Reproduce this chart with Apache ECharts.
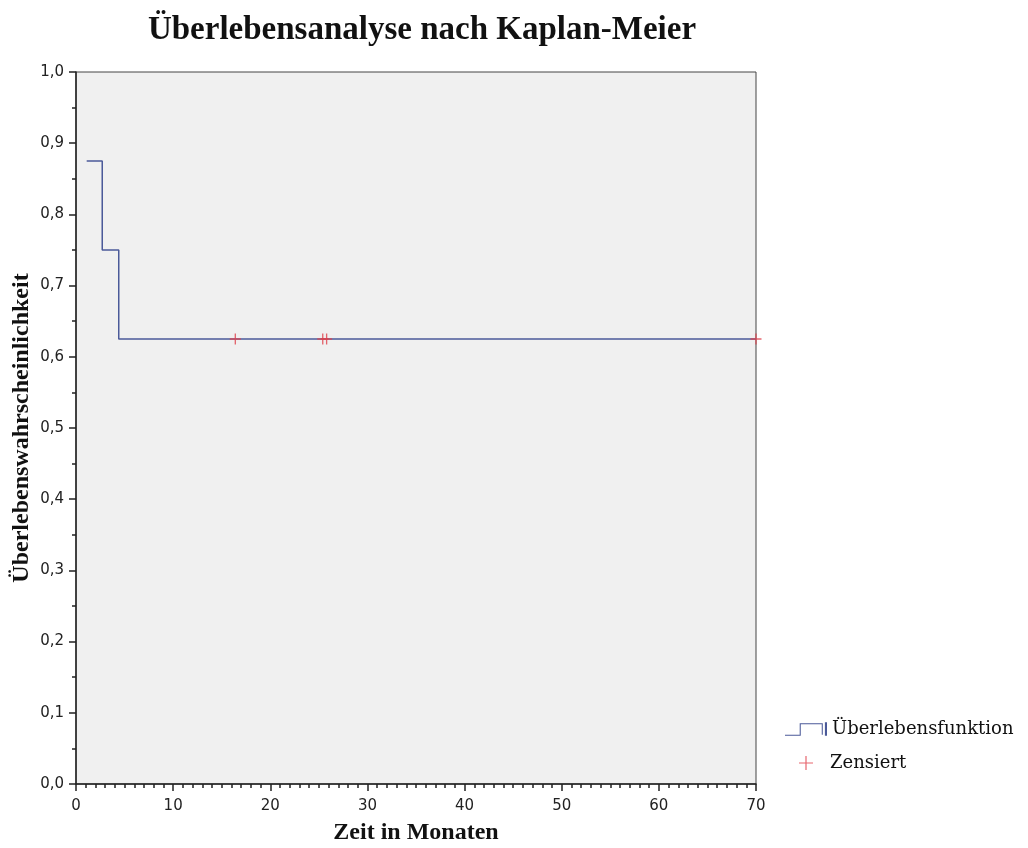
<!DOCTYPE html>
<html>
<head>
<meta charset="utf-8">
<script src="https://cdn.jsdelivr.net/npm/echarts@6/dist/echarts.min.js"></script>
<style>
html, body { margin: 0; padding: 0; background: #fff; }
#main { width: 1028px; height: 848px; }
</style>
</head>
<body>
<div id="main"></div>
<script>
// Kaplan-Meier Stufen (Monate, Überlebenswahrscheinlichkeit)
var stepTimes = [1.1, 2.7, 4.4, 70];
var stepSurvival = [0.875, 0.75, 0.625, 0.625];
// zensierte Fälle
var censoredTimes = [16.4, 25.4, 25.8, 70];
var censoredSurvival = [0.625, 0.625, 0.625, 0.625];

var stepData = [];
for (var i = 0; i < stepTimes.length; i++) {
    stepData.push([stepTimes[i], stepSurvival[i]]);
}
var censoredData = [];
for (var j = 0; j < censoredTimes.length; j++) {
    censoredData.push([censoredTimes[j], censoredSurvival[j]]);
}

var serif = '"Liberation Serif", "DejaVu Serif", serif';
var comma = function (v, d) { return v.toFixed(d).replace('.', ','); };

var lineColor = '#4b5a99';
var crossColor = '#e0404a';

var chart = echarts.init(document.getElementById('main'));
chart.setOption({
    animation: false,
    backgroundColor: '#fff',
    title: {
        text: 'Überlebensanalyse nach Kaplan-Meier',
        left: 417,
        top: 9,
        textAlign: 'center',
        textStyle: { fontFamily: serif, fontWeight: 'bold', fontSize: 33, color: '#111' }
    },
    legend: [
        {
            left: 780,
            top: 715,
            itemWidth: 42,
            itemHeight: 14,
            textStyle: { fontFamily: '"DejaVu Serif", serif', fontSize: 18, color: '#111' },
            data: [
                { name: 'Überlebensfunktion', icon: 'path://M0,13H14V2H36V13H35V3H15V14H0ZM38,1H40V14H38Z', itemStyle: { color: lineColor } }
            ]
        },
        {
            left: 794,
            top: 749,
            itemWidth: 14,
            itemHeight: 14,
            textStyle: { fontFamily: '"DejaVu Serif", serif', fontSize: 18, color: '#111', padding: [0, 0, 0, 12] },
            data: [
                { name: 'Zensiert', icon: 'path://M6.4,0H7.6V14H6.4ZM0,6.4H14V7.6H0Z', itemStyle: { color: crossColor } }
            ]
        }
    ],
    grid: {
        left: 76,
        right: 272,
        top: 72,
        bottom: 64,
        outerBoundsMode: 'none',
        show: true,
        backgroundColor: '#f0f0f0',
        borderColor: '#444',
        borderWidth: 1
    },
    xAxis: {
        type: 'value',
        min: 0,
        max: 70,
        interval: 10,
        name: 'Zeit in Monaten',
        nameLocation: 'middle',
        nameGap: 37,
        nameTextStyle: { fontFamily: serif, fontWeight: 'bold', fontSize: 24, color: '#111' },
        axisLine: { lineStyle: { color: '#222', width: 1.5 } },
        axisTick: { show: true, length: 7, lineStyle: { color: '#222', width: 1.5 } },
        minorTick: { show: true, splitNumber: 10, length: 4, lineStyle: { color: '#222', width: 1.5 } },
        splitLine: { show: false },
        axisLabel: { margin: 15, fontSize: 15, color: '#222', fontFamily: '"DejaVu Sans", sans-serif' }
    },
    yAxis: {
        type: 'value',
        min: 0,
        max: 1,
        interval: 0.1,
        name: 'Überlebenswahrscheinlichkeit',
        nameLocation: 'middle',
        nameGap: 42,
        nameMoveOverlap: false,
        nameTextStyle: { fontFamily: serif, fontWeight: 'bold', fontSize: 24, color: '#111' },
        axisLine: { show: true, lineStyle: { color: '#222', width: 1.5 } },
        axisTick: { show: true, length: 7, lineStyle: { color: '#222', width: 1.5 } },
        minorTick: { show: true, splitNumber: 2, length: 4, lineStyle: { color: '#222', width: 1.5 } },
        splitLine: { show: false },
        axisLabel: {
            margin: 12,
            fontSize: 15,
            color: '#222',
            fontFamily: '"DejaVu Sans", sans-serif',
            formatter: function (v) { return comma(v, 1); }
        }
    },
    series: [
        {
            name: 'Überlebensfunktion',
            type: 'line',
            step: 'end',
            symbol: 'none',
            lineStyle: { color: lineColor, width: 1.5 },
            itemStyle: { color: lineColor },
            data: stepData,
            z: 2
        },
        {
            name: 'Zensiert',
            type: 'scatter',
            symbol: 'path://M4.4,0H5.6V10H4.4ZM0,4.4H10V5.6H0Z',
            symbolSize: 11,
            itemStyle: { color: crossColor },
            data: censoredData,
            z: 3
        }
    ]
});
</script>
</body>
</html>
